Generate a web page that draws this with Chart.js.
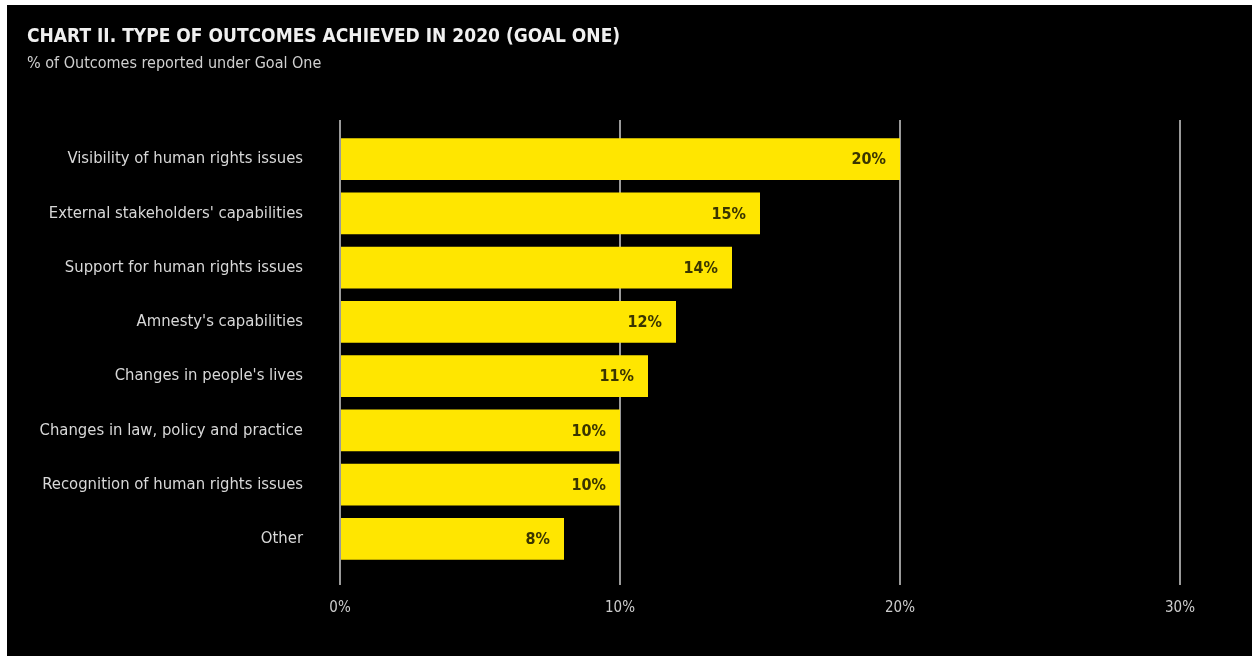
<!DOCTYPE html>
<html>
<head>
<meta charset="utf-8">
<script src="https://cdn.jsdelivr.net/npm/chart.js@4"></script>
<style>
  html, body { margin: 0; padding: 0; background: #ffffff; }
  #wrap { position: absolute; left: 7px; top: 5px; width: 1245px; height: 651px; background: #000000; }
</style>
</head>
<body>
<div id="wrap"><canvas id="outcomesChart" width="1245" height="651"></canvas></div>
<script>
const categories = [
    "Visibility of human rights issues",
    "External stakeholders' capabilities",
    "Support for human rights issues",
    "Amnesty's capabilities",
    "Changes in people's lives",
    "Changes in law, policy and practice",
    "Recognition of human rights issues",
    "Other"
];
const shares = [20, 15, 14, 12, 11, 10, 10, 8];
const xTicks = [0, 10, 20, 30];

const narrow = '"Liberation Sans Narrow", "DejaVu Sans Condensed", "Roboto", sans-serif';

// percentage written inside the end of each bar
const barValueLabels = {
    id: 'barValueLabels',
    afterDatasetsDraw(chart) {
        const ctx = chart.ctx;
        const meta = chart.getDatasetMeta(0);
        ctx.save();
        ctx.font = 'bold 16px ' + narrow;
        ctx.fillStyle = '#3a3500';
        ctx.textAlign = 'right';
        ctx.textBaseline = 'middle';
        meta.data.forEach((bar, i) => {
            ctx.fillText(shares[i] + '%', bar.x - 14, bar.y + 1);
        });
        ctx.restore();
    }
};

let ctx = document.getElementById('outcomesChart').getContext('2d');
window.outcomesChart = new Chart(ctx, {
    type: 'bar',
    data: {
        labels: categories,
        datasets: [{
            data: shares,
            backgroundColor: '#FFE600',
            borderWidth: 0,
            categoryPercentage: 1,
            barPercentage: 0.77
        }]
    },
    options: {
        indexAxis: 'y',
        responsive: false,
        animation: false,
        layout: {
            padding: { left: 20, right: 72, top: 0, bottom: 30 }
        },
        plugins: {
            legend: { display: false },
            tooltip: { enabled: false },
            title: {
                display: true,
                text: 'CHART II. TYPE OF OUTCOMES ACHIEVED IN 2020 (GOAL ONE)',
                align: 'start',
                color: '#f0f0f0',
                font: { family: narrow, size: 19, weight: 'bold' },
                padding: { top: 21, bottom: 0 }
            },
            subtitle: {
                display: true,
                text: '% of Outcomes reported under Goal One',
                align: 'start',
                color: '#d0d0d0',
                font: { family: narrow, size: 16 },
                padding: { top: 5, bottom: 47 }
            }
        },
        scales: {
            x: {
                type: 'linear',
                position: 'bottom',
                min: 0,
                max: 30,
                afterBuildTicks: scale => { scale.ticks = xTicks.map(v => ({ value: v })); },
                afterFit: scale => { scale.height = 60; },
                border: { display: false },
                grid: { color: '#9a9a9a', lineWidth: 2, tickLength: 19 },
                ticks: {
                    color: '#cccccc',
                    padding: 14,
                    font: { family: narrow, size: 15 },
                    callback: v => v + '%'
                }
            },
            xTop: {
                type: 'linear',
                position: 'top',
                min: 0,
                max: 30,
                afterBuildTicks: scale => { scale.ticks = xTicks.map(v => ({ value: v })); },
                afterFit: scale => { scale.height = 12; },
                border: { display: false },
                grid: { color: '#9a9a9a', lineWidth: 2, tickLength: 12, drawOnChartArea: false },
                ticks: { display: false }
            },
            y: {
                afterFit: scale => { scale.width = 313; },
                border: { display: false },
                grid: { display: false },
                ticks: {
                    color: '#d8d8d8',
                    padding: 29,
                    font: { family: narrow, size: 16.5 }
                }
            }
        }
    },
    plugins: [barValueLabels]
});
</script>
</body>
</html>
